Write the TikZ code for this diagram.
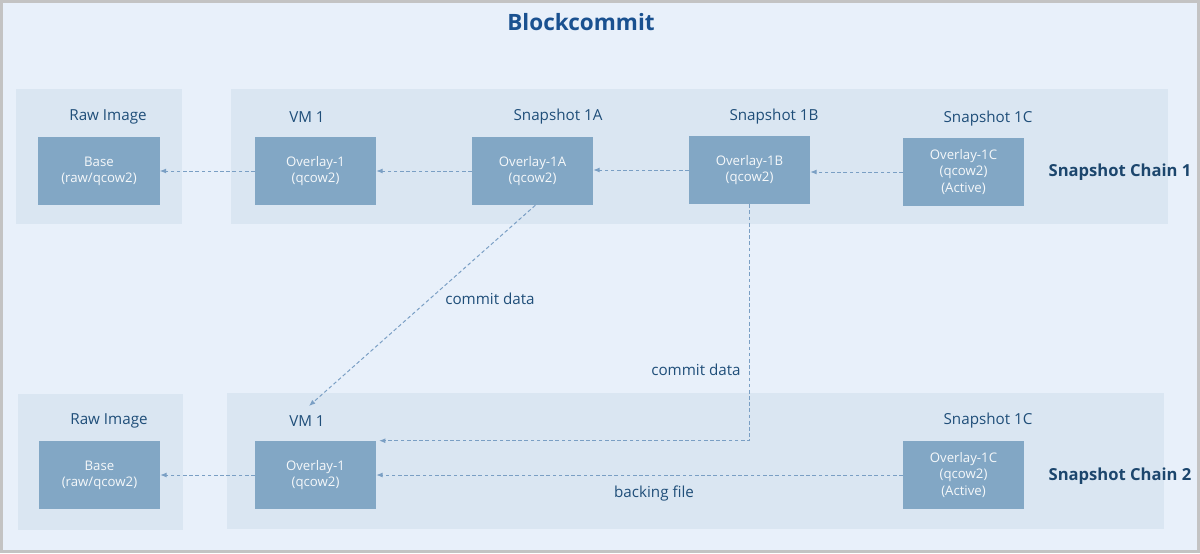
\documentclass[tikz,border=0pt]{standalone}
\usepackage{fontspec}
\setmainfont{Open Sans}
\usetikzlibrary{positioning,arrows.meta}

\definecolor{framegray}{HTML}{C3C3C3}
\definecolor{bgblue}{HTML}{E8F0FA}
\definecolor{panelblue}{HTML}{DAE6F2}
\definecolor{diskblue}{HTML}{82A7C5}
\definecolor{textblue}{HTML}{1F4E79}
\definecolor{titleblue}{HTML}{1A5190}
\definecolor{linkblue}{HTML}{7A9FC4}

\tikzset{
  disk/.style={fill=diskblue, minimum width=3.025cm, minimum height=1.7cm,
    text=white!92!diskblue, align=center, font=\fontsize{9.4}{11.4}\selectfont},
  lbl/.style={text=textblue, yshift=-1.4pt, font=\fontsize{10.8}{13}\selectfont},
  chain/.style={text=textblue!90!black, yshift=-1.4pt, font=\bfseries\fontsize{11.8}{14}\selectfont},
  link/.style={draw=linkblue, line width=0.7pt, dash pattern=on 2.6pt off 1.8pt,
    -{Latex[length=4.5pt,width=3.5pt]}},
}

\begin{document}
\begin{tikzpicture}[x=0.025cm, y=-0.025cm]
  % frame and panels
  \fill[framegray] (0,0) rectangle (1200,553);
  \fill[bgblue] (3,3) rectangle (1197,550);
  \fill[panelblue] (16,89) rectangle (182,224);
  \fill[panelblue] (231,89) rectangle (1168,224);
  \fill[panelblue] (18,394) rectangle (183,530);
  \fill[panelblue] (227,393) rectangle (1164,529);

  \node[text=titleblue, font=\bfseries\fontsize{16}{19}\selectfont] (title) at (581,22) {Blockcommit};

  % snapshot chain 1
  \node[disk] (base1) at (99,171) {Base\\(raw/qcow2)};
  \node[disk] (ov1) at (315.5,171) {Overlay-1\\(qcow2)};
  \node[disk] (ov1a) at (532.5,171) {Overlay-1A\\(qcow2)};
  \node[disk] (ov1b) at (749.5,170) {Overlay-1B\\(qcow2)};
  \node[disk] (ov1c) at (963.5,172) {Overlay-1C\\(qcow2)\\(Active)};

  \node[lbl] (raw1) at (108,115) {Raw Image};
  \node[lbl] (vm1) at (307,115) {VM 1};
  \node[lbl] (snap1a) at (558,115) {Snapshot 1A};
  \node[lbl] (snap1b) at (774,115) {Snapshot 1B};
  \node[lbl] (snap1c) at (988,117) {Snapshot 1C};
  \node[chain] (chain1) at (1120,170) {Snapshot Chain 1};

  % snapshot chain 2
  \node[disk] (base2) at (99.5,475) {Base\\(raw/qcow2)};
  \node[disk] (ov2) at (315.5,475) {Overlay-1\\(qcow2)};
  \node[disk] (ov2c) at (963.5,475) {Overlay-1C\\(qcow2)\\(Active)};

  \node[lbl] (raw2) at (109,419) {Raw Image};
  \node[lbl] (vm2) at (307,419) {VM 1};
  \node[lbl] (snap2c) at (988,419) {Snapshot 1C};
  \node[chain] (chain2) at (1120,474) {Snapshot Chain 2};

  % backing links
  \draw[link] (ov1.west) -- (base1.east);
  \draw[link] (ov1a.west) -- (ov1.east);
  \draw[link] (ov1b.west) -- (ov1a.east |- ov1b.west);
  \draw[link] (ov1c.west) -- (ov1b.east |- ov1c.west);
  \draw[link] (ov2.west) -- (base2.east);
  \draw[link] (ov2c.west) -- (ov2.east);
  \node[lbl] (backing) at (654,492) {backing file};

  % commit links
  \coordinate (vmtip) at (309,406);
  \draw[link] ([xshift=2]ov1a.south) -- (vmtip);
  \node[lbl] (commit1) at (490,297) {commit data};
  \draw[link] (ov1b.south) |- ([xshift=2]ov2.north east);
  \node[lbl] (commit2) at (696,368) {commit data};
\end{tikzpicture}
\end{document}
